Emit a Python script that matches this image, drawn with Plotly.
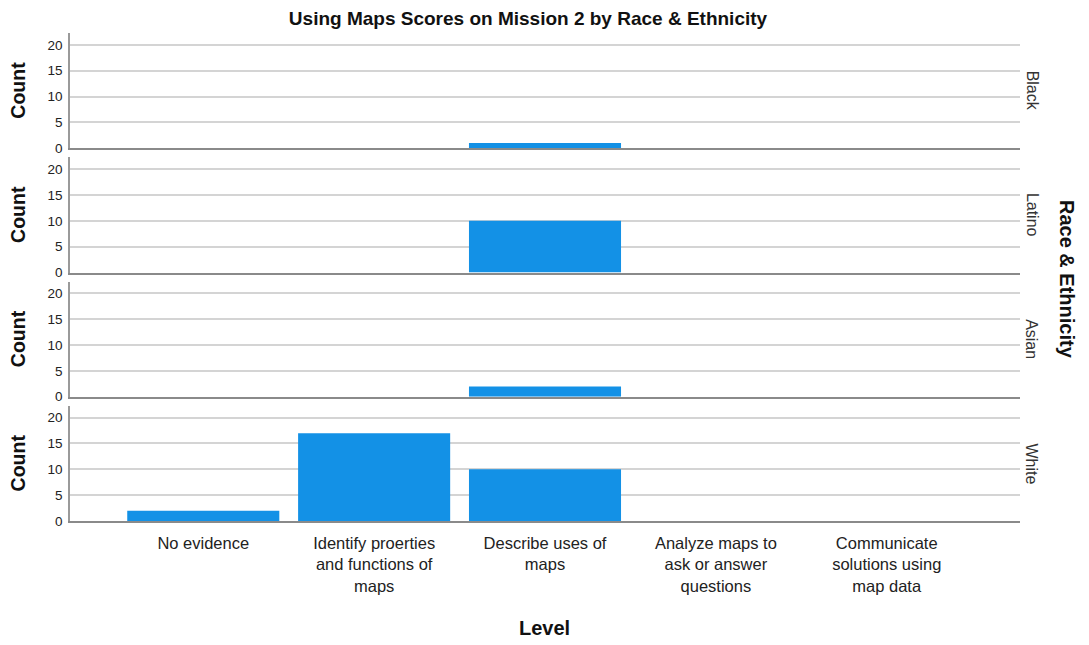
import plotly.graph_objects as go
from plotly.subplots import make_subplots

categories = ["No evidence", "Identify proerties<br>and functions of<br>maps", "Describe uses of<br>maps",
              "Analyze maps to<br>ask or answer<br>questions", "Communicate<br>solutions using<br>map data"]
groups = ["Black", "Latino", "Asian", "White"]
black = [0, 0, 1, 0, 0]
latino = [0, 0, 10, 0, 0]
asian = [0, 0, 2, 0, 0]
white = [2, 17, 10, 0, 0]
series = [black, latino, asian, white]
ytick_vals = [0, 5, 10, 15, 20]

W, H = 1089, 645
L, R, T, B = 70, 69, 33, 124
pw, ph = W - L - R, H - T - B

fig = make_subplots(rows=4, cols=1, shared_xaxes=True, vertical_spacing=9 / ph)
color = "#1391E6"
FONT = "Liberation Sans, Arial, sans-serif"

for i, vals in enumerate(series):
    fig.add_trace(go.Bar(x=categories, y=vals, marker=dict(color=color, line=dict(width=0)),
                         width=0.89, showlegend=False), row=i + 1, col=1)
    fig.update_yaxes(range=[0, 22.3], tickvals=ytick_vals, showgrid=True, gridcolor="#D4D4D4",
                     gridwidth=1.5, showline=True, linecolor="#9A9A9A", linewidth=1.5,
                     ticks="", tickfont=dict(size=13.5, color="#222"), zeroline=False,
                     ticklabelstandoff=3,
                     row=i + 1, col=1)
    fig.update_xaxes(type="category", range=[-0.78, 4.78], showline=True, linecolor="#8A8A8A",
                     linewidth=2, showgrid=False, ticks="", showticklabels=(i == 3),
                     ticklabelstandoff=6,
                     tickfont=dict(size=16.5, color="#222"), row=i + 1, col=1)

annotations = []
n = len(groups)
gap = 9 / ph
panel_h = (1 - gap * (n - 1)) / n
for i, g in enumerate(groups):
    y0 = 1 - i * (panel_h + gap) - panel_h / 2
    annotations.append(dict(text=g, x=1 + 12 / pw, y=y0, xref="paper", yref="paper",
                            textangle=90, showarrow=False, font=dict(size=16, color="#333"),
                            xanchor="center", yanchor="middle"))
    annotations.append(dict(text="<b>Count</b>", x=-(70 - 18) / pw, y=y0, xref="paper", yref="paper",
                            textangle=-90, showarrow=False, font=dict(size=19.5, color="#111"),
                            xanchor="center", yanchor="middle"))
annotations.append(dict(text="<b>Race & Ethnicity</b>", x=1 + 47 / pw, y=(T + ph - 279) / ph, xref="paper",
                        yref="paper", textangle=90, showarrow=False, font=dict(size=20, color="#111"),
                        xanchor="center", yanchor="middle"))
annotations.append(dict(text="<b>Level</b>", x=(544 - L) / pw, y=-(628 - (T + ph)) / ph, xref="paper",
                        yref="paper", showarrow=False, font=dict(size=20, color="#111"),
                        xanchor="center", yanchor="middle"))

fig.update_layout(
    width=W, height=H,
    margin=dict(l=L, r=R, t=T, b=B),
    plot_bgcolor="white", paper_bgcolor="white",
    font=dict(family=FONT, color="#222"),
    title=dict(text="<b>Using Maps Scores on Mission 2 by Race & Ethnicity</b>", x=528 / W, xanchor="center",
               y=1 - 18 / H, yanchor="middle", font=dict(size=19, color="#111")),
    annotations=annotations,
    bargap=0.11,
)

fig.write_html("out.html", config={"displayModeBar": False},
               post_script="document.body.style.margin='0';document.body.style.overflow='hidden';")
